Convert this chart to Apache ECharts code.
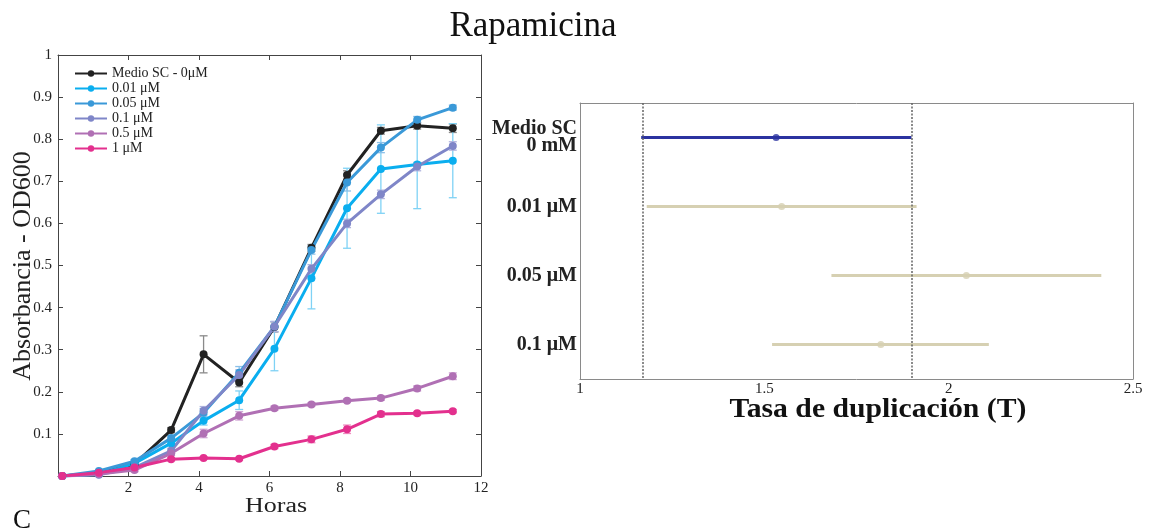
<!DOCTYPE html>
<html>
<head>
<meta charset="utf-8">
<script src="https://cdn.jsdelivr.net/npm/echarts@6/dist/echarts.min.js"></script>
<style>
  html, body { margin: 0; padding: 0; background: #fff; }
  #c { width: 1151px; height: 531px; }
</style>
</head>
<body>
<div id="c"></div>
<script>
// ---- Growth curves (OD600 vs hours) ----
const hours = [0.12, 1.16, 2.17, 3.21, 4.13, 5.14, 6.14, 7.19, 8.2, 9.16, 10.19, 11.2];

const seriesNames = ['Medio SC - 0\u03bcM', '0.01 \u03bcM', '0.05 \u03bcM', '0.1 \u03bcM', '0.5 \u03bcM', '1 \u03bcM'];

const odControl = [0, 0.008, 0.028, 0.109, 0.289, 0.222, 0.354, 0.542, 0.715, 0.82, 0.832, 0.826];
const errControl = [0, 0.003, 0.004, 0.006, 0.044, 0.01, 0.012, 0.008, 0.01, 0.008, 0.008, 0.01];

const od001 = [0, 0.004, 0.03, 0.078, 0.131, 0.18, 0.302, 0.47, 0.636, 0.729, 0.74, 0.749];
const err001 = [0, 0.003, 0.004, 0.006, 0.01, 0.022, 0.052, 0.073, 0.095, 0.105, 0.105, 0.088];

const od005 = [0, 0.012, 0.035, 0.09, 0.15, 0.245, 0.355, 0.537, 0.697, 0.78, 0.846, 0.875];
const err005 = [0, 0.002, 0.004, 0.006, 0.01, 0.015, 0.012, 0.01, 0.02, 0.012, 0.008, 0.006];

const od01 = [0, 0.003, 0.02, 0.06, 0.155, 0.24, 0.355, 0.492, 0.6, 0.669, 0.735, 0.784];
const err01 = [0, 0.002, 0.004, 0.006, 0.01, 0.012, 0.012, 0.01, 0.01, 0.01, 0.01, 0.01];

const od05 = [0, 0.005, 0.014, 0.054, 0.101, 0.143, 0.161, 0.17, 0.179, 0.185, 0.208, 0.237];
const err05 = [0, 0.002, 0.004, 0.005, 0.01, 0.01, 0.005, 0.004, 0.004, 0.005, 0.006, 0.008];

const od1 = [0, 0.008, 0.02, 0.04, 0.043, 0.041, 0.07, 0.087, 0.111, 0.147, 0.149, 0.154];
const err1 = [0, 0.002, 0.003, 0.004, 0.003, 0.003, 0.005, 0.008, 0.01, 0.006, 0.004, 0.004];

const lineColors = ['#222222', '#0aaeef', '#3a99d8', '#7f86c8', '#b070b4', '#e3308e'];
const errColors = ['#8a8a8a', '#7fd2f5', '#8cc0e8', '#b0b4de', '#d0a6d4', '#ee8cc0'];

// ---- Doubling time intervals ----
const conditions = ['Medio SC\n0 mM', '0.01 \u03bcM', '0.05 \u03bcM', '0.1 \u03bcM'];
const tMean = [1.532, 1.547, 2.048, 1.816];
const tLow = [1.166, 1.181, 1.682, 1.521];
const tHigh = [1.899, 1.913, 2.414, 2.109];
const tColors = ['#2b33a0', '#d6d0b2', '#d6d0b2', '#d6d0b2'];

const serif = "'Liberation Serif', 'Times New Roman', serif";

const curves = [
  [odControl, errControl], [od001, err001], [od005, err005],
  [od01, err01], [od05, err05], [od1, err1]
];

function errorBarSeries(vals, errs, color) {
  return {
    type: 'custom',
    xAxisIndex: 0, yAxisIndex: 0,
    silent: true,
    data: hours.map((h, i) => [h, vals[i], errs[i]]),
    renderItem: function (params, api) {
      const x = api.value(0), y = api.value(1), e = api.value(2);
      if (!e) return null;
      const top = api.coord([x, y + e]);
      const bot = api.coord([x, y - e]);
      const w = 4;
      const st = { stroke: color, lineWidth: 1.3 };
      return {
        type: 'group',
        children: [
          { type: 'line', shape: { x1: top[0], y1: top[1], x2: bot[0], y2: bot[1] }, style: st },
          { type: 'line', shape: { x1: top[0] - w, y1: top[1], x2: top[0] + w, y2: top[1] }, style: st },
          { type: 'line', shape: { x1: bot[0] - w, y1: bot[1], x2: bot[0] + w, y2: bot[1] }, style: st }
        ]
      };
    }
  };
}

const series = [];
curves.forEach((c, k) => {
  series.push(errorBarSeries(c[0], c[1], errColors[k]));
});
curves.forEach((c, k) => {
  series.push({
    name: seriesNames[k],
    type: 'line',
    xAxisIndex: 0, yAxisIndex: 0,
    data: hours.map((h, i) => [h, c[0][i]]),
    symbol: 'circle',
    symbolSize: 8,
    lineStyle: { color: lineColors[k], width: 3 },
    itemStyle: { color: lineColors[k] },
    emphasis: { disabled: true }
  });
});

// interval bars
series.push({
  type: 'custom',
  xAxisIndex: 2, yAxisIndex: 2,
  silent: true,
  data: conditions.map((c, i) => [tLow[i], tHigh[i], i]),
  renderItem: function (params, api) {
    const i = api.value(2);
    const a = api.coord([api.value(0), i]);
    const b = api.coord([api.value(1), i]);
    return {
      type: 'line',
      shape: { x1: a[0], y1: a[1], x2: b[0], y2: b[1] },
      style: { stroke: tColors[i], lineWidth: 3 }
    };
  }
});
// means + reference lines at the control interval bounds
series.push({
  type: 'scatter',
  xAxisIndex: 2, yAxisIndex: 2,
  symbolSize: 7,
  data: conditions.map((c, i) => ({ value: [tMean[i], i], itemStyle: { color: tColors[i] } })),
  markLine: {
    silent: true,
    symbol: 'none',
    label: { show: false },
    lineStyle: { color: '#666', type: [2, 1.5], width: 1.5 },
    data: [{ xAxis: tLow[0] }, { xAxis: tHigh[0] }]
  }
});

const lineDark = { show: true, onZero: false, lineStyle: { color: '#444', width: 1 } };
const lineGrey = { show: true, onZero: false, lineStyle: { color: '#8a8a8a', width: 1 } };
const tickDark = { inside: true, length: 5, lineStyle: { color: '#444' } };
const tickGrey = { inside: true, length: 4, lineStyle: { color: '#999' } };

const option = {
  animation: false,
  title: {
    text: 'Rapamicina',
    left: 528, top: 4,
    textAlign: 'center',
    textStyle: { fontFamily: serif, fontSize: 35, fontWeight: 'normal', color: '#111' }
  },
  legend: {
    data: seriesNames,
    orient: 'vertical',
    left: 74, top: 66,
    itemWidth: 32, itemHeight: 8,
    itemGap: 0,
    padding: 0,
    textStyle: { fontFamily: serif, fontSize: 14, color: '#222', lineHeight: 15 }
  },
  graphic: [
    {
      type: 'text', x: 23, y: 266, rotation: Math.PI / 2,
      style: { text: 'Absorbancia - OD600', fontFamily: serif, fontSize: 26, fill: '#222',
        textAlign: 'center', textVerticalAlign: 'middle' }
    },
    {
      type: 'text', x: 276, y: 507, scaleX: 1.3,
      style: { text: 'Horas', fontFamily: serif, fontSize: 20, fill: '#222',
        textAlign: 'center', textVerticalAlign: 'middle' }
    },
    {
      type: 'text', x: 878, y: 410, scaleX: 1.1,
      style: { text: 'Tasa de duplicaci\u00f3n (T)', fontFamily: serif, fontSize: 27,
        fontWeight: 'bold', fill: '#111', textAlign: 'center', textVerticalAlign: 'middle' }
    },
    {
      type: 'text', left: 13, top: 507,
      style: { text: 'C', fontFamily: serif, fontSize: 27, fill: '#111' }
    }
  ],
  grid: [
    { left: 58, top: 55, width: 423, height: 421 },
    { left: 580, top: 103, width: 553, height: 276 }
  ],
  xAxis: [
    {
      gridIndex: 0, type: 'value', min: 0, max: 12, interval: 2,
      axisLine: lineDark, axisTick: tickDark,
      axisLabel: { fontFamily: serif, fontSize: 15, color: '#222', margin: 5,
        formatter: v => (v === 0 ? '' : String(v)) },
      splitLine: { show: false }
    },
    {
      gridIndex: 0, type: 'value', min: 0, max: 12, interval: 2, position: 'top',
      axisLine: lineDark, axisTick: tickDark,
      axisLabel: { show: false }, splitLine: { show: false }
    },
    {
      gridIndex: 1, type: 'value', min: 1, max: 2.5, interval: 0.5,
      axisLine: lineGrey, axisTick: tickGrey,
      axisLabel: { fontFamily: serif, fontSize: 15, color: '#222', margin: 3 },
      splitLine: { show: false }
    },
    {
      gridIndex: 1, type: 'value', min: 1, max: 2.5, interval: 0.5, position: 'top',
      axisLine: lineGrey, axisTick: tickGrey,
      axisLabel: { show: false }, splitLine: { show: false }
    }
  ],
  yAxis: [
    {
      gridIndex: 0, type: 'value', min: 0, max: 1, interval: 0.1,
      axisLine: lineDark, axisTick: tickDark,
      axisLabel: { fontFamily: serif, fontSize: 15, color: '#222', margin: 6,
        formatter: v => (v === 0 ? '' : String(Math.round(v * 10) / 10)) },
      splitLine: { show: false }
    },
    {
      gridIndex: 0, type: 'value', min: 0, max: 1, interval: 0.1, position: 'right',
      axisLine: lineDark, axisTick: tickDark,
      axisLabel: { show: false }, splitLine: { show: false }
    },
    {
      gridIndex: 1, type: 'category', data: conditions, inverse: true,
      axisLine: lineGrey,
      axisTick: Object.assign({ alignWithLabel: true }, tickGrey),
      axisLabel: { fontFamily: serif, fontSize: 20, fontWeight: 'bold', color: '#222',
        margin: 3, lineHeight: 17 },
      splitLine: { show: false }
    },
    {
      gridIndex: 1, type: 'category', data: conditions, inverse: true, position: 'right',
      axisLine: lineGrey,
      axisTick: Object.assign({ alignWithLabel: true }, tickGrey),
      axisLabel: { show: false }, splitLine: { show: false }
    }
  ],
  series: series
};

const chart = echarts.init(document.getElementById('c'), null, { renderer: 'canvas' });
chart.setOption(option);
</script>
</body>
</html>
